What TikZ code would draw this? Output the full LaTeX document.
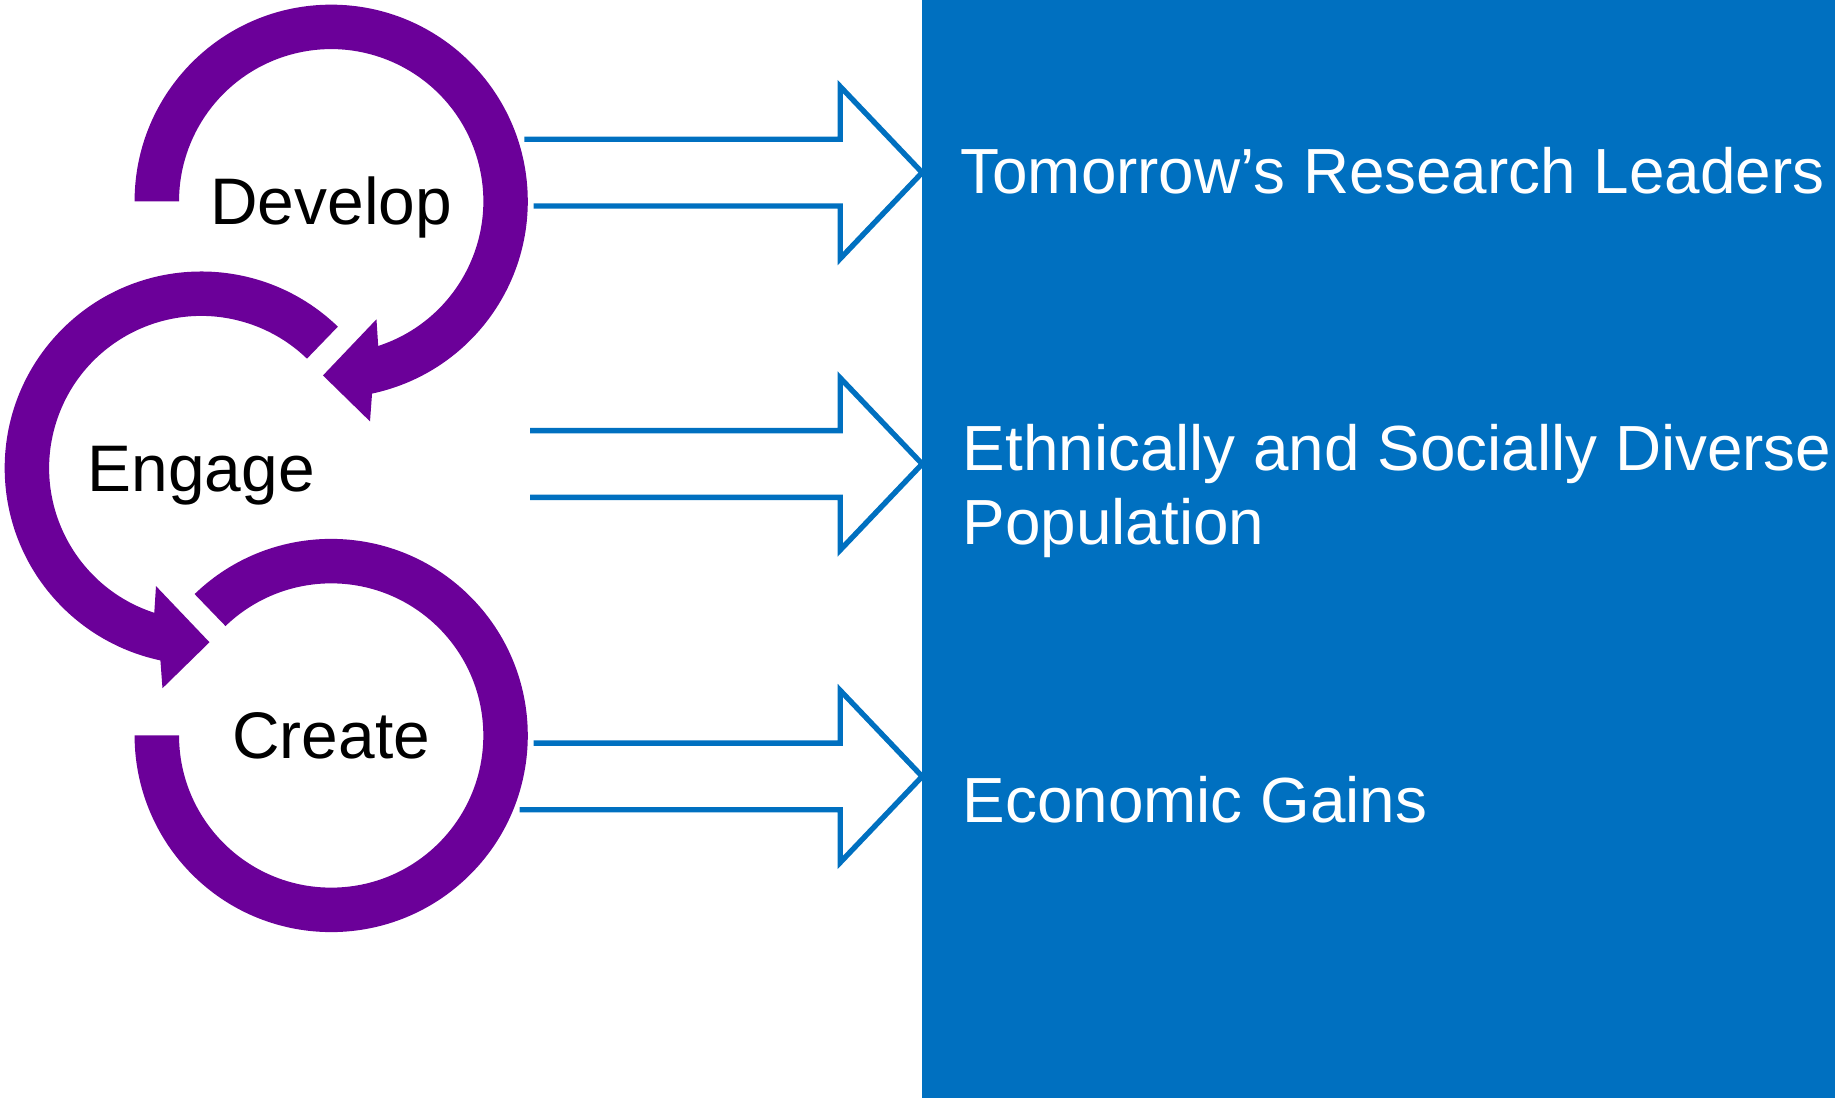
\documentclass[tikz,border=0pt]{standalone}
\usepackage{fontspec}
\setmainfont{Liberation Sans}
\definecolor{loopviolet}{HTML}{6B0099}
\definecolor{boxblue}{HTML}{0070C0}
\tikzset{
    loop/.style={fill=loopviolet},
    outarrow/.style={draw=boxblue, line width=1.3pt},
    stage/.style={anchor=base, inner sep=0pt, yshift=-0.2cm, font=\fontsize{16}{19}\selectfont},
    outcome/.style={anchor=base west, inner sep=0pt, text=white, align=left,
        font=\fontsize{15.5}{17.9}\selectfont}
}
\begin{document}
\begin{tikzpicture}[x=0.01cm, y=0.01cm]
            \useasboundingbox (0,0) rectangle (1568,940);
            \coordinate (dev) at (283,768);
            \coordinate (eng) at (172,540);
            \coordinate (cre) at (283,311.5);
            % the three loops
            \begin{scope}[shift={(dev)}]
                \fill[loop] (180:168) arc[start angle=180, end angle=-78, radius=168]
                    -- (-80:191) -- (-92.7:149) -- (-69:108) -- (-72:130)
                    arc[start angle=-72, end angle=180, radius=130] -- cycle;
            \end{scope}
            \begin{scope}[shift={(eng)}]
                \fill[loop] (46:168) arc[start angle=46, end angle=258, radius=168]
                    -- (260:191) -- (272.7:149) -- (249:108) -- (252:130)
                    arc[start angle=252, end angle=46, radius=130] -- cycle;
            \end{scope}
            \begin{scope}[shift={(cre)}]
                \fill[loop] (134:168) arc[start angle=134, end angle=-180, radius=168]
                    -- (180:130) arc[start angle=-180, end angle=134, radius=130] -- cycle;
            \end{scope}
            \node[stage] (develop) at (dev) {Develop};
            \node[stage] (engage) at (eng) {Engage};
            \node[stage] (create) at (cre) {Create};
            % outcomes
            \fill[boxblue] (788,2) rectangle (1568,940);
            \coordinate (t1) at (788,792.5);
            \coordinate (t2) at (788,543.5);
            \coordinate (t3) at (788,276.5);
            \draw[outarrow] (448,821) -- (718,821) -- ++(0,45) -- (t1)
                -- (718,719) -- ++(0,45) -- (456,764);
            \draw[outarrow] (453,572) -- (718,572) -- ++(0,45) -- (t2)
                -- (718,470) -- ++(0,45) -- (453,515);
            \draw[outarrow] (456,305) -- (718,305) -- ++(0,45) -- (t3)
                -- (718,203) -- ++(0,45) -- (444,248);
            \node[outcome] (out1) at (820,775) {Tomorrow’s Research Leaders};
            \node[outcome] (out2) at (822,475) {Ethnically and Socially Diverse\\Population};
            \node[outcome] (out3) at (822,237) {Economic Gains};
\end{tikzpicture}
\end{document}
